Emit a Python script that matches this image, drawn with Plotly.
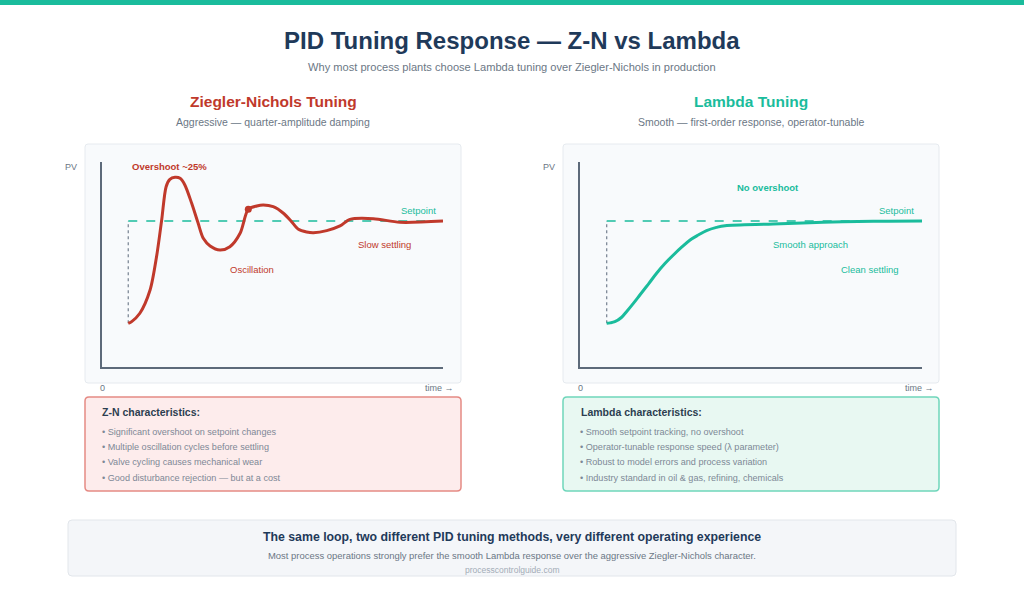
import plotly.graph_objects as go

# ---------------- data ----------------
setpoint = 100
initial_pv = 30
step_time = 7.7

zn_time = [7.7, 8.7, 11.1, 14.1, 16.0, 17.5, 18.8, 19.9, 21.4, 22.9, 24.3, 26.3, 28.2, 29.7,
           31.7, 34.6, 37.5, 40.5, 42.9, 45.4, 47.3, 50.2, 53.2, 55.6, 57.6, 60.0, 62.0,
           65.9, 69.8, 72.7, 79.6, 87.4, 100.0]
zn_pv = [29.9, 31.1, 36.8, 52.7, 75.6, 100.7, 123.5, 128.5, 129.9, 129.2, 124.7, 112.1, 98.4, 88.1,
         82.9, 80.1, 82.4, 91.6, 108.0, 110.3, 111.0, 109.8, 105.3, 99.5, 94.3, 92.5, 92.0,
         93.4, 96.6, 101.1, 101.6, 99.1, 100.0]
zn_marker_time = [42.9]
zn_marker_pv = [108.0]

lam_time = [7.8, 8.8, 10.2, 12.1, 13.6, 15.6, 17.5, 20.0, 22.4, 24.9, 27.3, 29.8, 32.2,
            34.6, 37.0, 39.9, 42.4, 56.5, 71.1, 85.8, 100.0]
lam_pv = [29.9, 30.2, 31.0, 33.9, 37.9, 43.6, 49.3, 56.8, 64.2, 71.0, 76.7, 82.2, 87.0,
          90.4, 93.4, 95.6, 96.8, 97.9, 99.1, 99.8, 100.0]

zn_labels = ["Overshoot ~25%", "Setpoint", "Slow settling", "Oscillation"]
zn_label_t = [19.9, 92.7, 82.7, 44.0]
zn_label_pv = [137.0, 107.5, 84.2, 67.1]

lam_labels = ["No overshoot", "Setpoint", "Smooth approach", "Clean settling"]
lam_label_t = [55.0, 92.4, 67.5, 84.8]
lam_label_pv = [122.6, 107.5, 84.2, 67.1]

zn_bullets = ["Significant overshoot on setpoint changes",
              "Multiple oscillation cycles before settling",
              "Valve cycling causes mechanical wear",
              "Good disturbance rejection — but at a cost"]
lam_bullets = ["Smooth setpoint tracking, no overshoot",
               "Operator-tunable response speed (λ parameter)",
               "Robust to model errors and process variation",
               "Industry standard in oil & gas, refining, chemicals"]

# ---------------- style ----------------
W, H = 1024, 597
FONT = "Liberation Sans, Arial, sans-serif"
RED = "#c0392b"
TEAL = "#1abc9c"
NAVY = "#1f3a5a"
GRAY = "#6b7785"
BGRAY = "#7d8896"
AXIS = "#5d6a7a"


def fx(x):
    return x / W


def fy(y):
    return 1 - y / H


def rrect(x0, y0, x1, y1, r):
    # rounded rectangle path in paper coords from pixel box
    pts = [
        f"M {fx(x0 + r)},{fy(y0)}",
        f"L {fx(x1 - r)},{fy(y0)}",
        f"Q {fx(x1)},{fy(y0)} {fx(x1)},{fy(y0 + r)}",
        f"L {fx(x1)},{fy(y1 - r)}",
        f"Q {fx(x1)},{fy(y1)} {fx(x1 - r)},{fy(y1)}",
        f"L {fx(x0 + r)},{fy(y1)}",
        f"Q {fx(x0)},{fy(y1)} {fx(x0)},{fy(y1 - r)}",
        f"L {fx(x0)},{fy(y0 + r)}",
        f"Q {fx(x0)},{fy(y0)} {fx(x0 + r)},{fy(y0)}",
        "Z",
    ]
    return " ".join(pts)


fig = go.Figure()

shapes = []
# top bar
shapes.append(dict(type="rect", xref="paper", yref="paper", x0=0, x1=1, y0=fy(5), y1=1,
                   fillcolor=TEAL, line=dict(width=0), layer="below"))
# chart panels
for x0, x1 in [(85, 461), (563, 939)]:
    shapes.append(dict(type="path", xref="paper", yref="paper", path=rrect(x0, 144, x1, 383, 3),
                       fillcolor="#f8fafc", line=dict(color="#e6eaef", width=1), layer="below"))
# characteristic boxes
shapes.append(dict(type="path", xref="paper", yref="paper", path=rrect(85, 397, 461, 491, 4),
                   fillcolor="#fdecec", line=dict(color="#e58a84", width=1.5), layer="below"))
shapes.append(dict(type="path", xref="paper", yref="paper", path=rrect(563, 397, 939, 491, 4),
                   fillcolor="#e8f8f2", line=dict(color="#6fd6bb", width=1.5), layer="below"))
# bottom box
shapes.append(dict(type="path", xref="paper", yref="paper", path=rrect(68, 520, 956, 576, 4),
                   fillcolor="#f4f6f9", line=dict(color="#e2e6eb", width=1), layer="below"))

# ---- left chart traces ----
fig.add_trace(go.Scatter(x=[step_time, step_time], y=[initial_pv, setpoint], mode="lines",
                         line=dict(color="#7f8a98", width=1.3, dash="dot"),
                         xaxis="x", yaxis="y", hoverinfo="skip"))
fig.add_trace(go.Scatter(x=[step_time, 100], y=[setpoint, setpoint], mode="lines",
                         line=dict(color=TEAL, width=1.5, dash="dash"),
                         xaxis="x", yaxis="y", hoverinfo="skip"))
fig.add_trace(go.Scatter(x=zn_time, y=zn_pv, mode="lines",
                         line=dict(color=RED, width=3, shape="spline", smoothing=0.8),
                         xaxis="x", yaxis="y"))
fig.add_trace(go.Scatter(x=zn_marker_time, y=zn_marker_pv, mode="markers",
                         marker=dict(color=RED, size=7), xaxis="x", yaxis="y"))

# ---- right chart traces ----
fig.add_trace(go.Scatter(x=[lam_time[0], lam_time[0]], y=[initial_pv, setpoint], mode="lines",
                         line=dict(color="#7f8a98", width=1.3, dash="dot"),
                         xaxis="x2", yaxis="y2", hoverinfo="skip"))
fig.add_trace(go.Scatter(x=[lam_time[0], 100], y=[setpoint, setpoint], mode="lines",
                         line=dict(color=TEAL, width=1.5, dash="dash"),
                         xaxis="x2", yaxis="y2", hoverinfo="skip"))
fig.add_trace(go.Scatter(x=lam_time, y=lam_pv, mode="lines",
                         line=dict(color=TEAL, width=3, shape="spline", smoothing=1),
                         xaxis="x2", yaxis="y2"))

ann = []


def ptext(x, y, text, size, color, bold=False, xanchor="center"):
    t = f"<b>{text}</b>" if bold else text
    ann.append(dict(xref="paper", yref="paper", x=fx(x), y=fy(y), text=t, showarrow=False,
                    xanchor=xanchor, yanchor="middle", font=dict(family=FONT, size=size, color=color)))


# headings
ptext(512, 40, "PID Tuning Response — Z-N vs Lambda", 24, NAVY, bold=True)
ptext(512, 67, "Why most process plants choose Lambda tuning over Ziegler-Nichols in production", 11.1, GRAY)
ptext(273, 101, "Ziegler-Nichols Tuning", 15.5, RED, bold=True)
ptext(273, 122, "Aggressive — quarter-amplitude damping", 10.5, GRAY)
ptext(751, 101, "Lambda Tuning", 15.5, TEAL, bold=True)
ptext(751, 122, "Smooth — first-order response, operator-tunable", 10.5, GRAY)

# axis labels
for pvx, zx, tx in [(70.5, 102, 456), (548.5, 580, 936)]:
    ptext(pvx, 167, "PV", 9, GRAY)
    ptext(zx, 388, "0", 9, GRAY)
    ptext(tx, 388, "time →", 9, GRAY, xanchor="right")

# chart labels (data coords)
for i, (lab, t, v) in enumerate(zip(zn_labels, zn_label_t, zn_label_pv)):
    col = TEAL if lab == "Setpoint" else RED
    txt = f"<b>{lab}</b>" if i == 0 else lab
    ann.append(dict(xref="x", yref="y", x=t, y=v, text=txt, showarrow=False,
                    font=dict(family=FONT, size=9.5, color=col)))
for i, (lab, t, v) in enumerate(zip(lam_labels, lam_label_t, lam_label_pv)):
    txt = f"<b>{lab}</b>" if i == 0 else lab
    ann.append(dict(xref="x2", yref="y2", x=t, y=v, text=txt, showarrow=False,
                    font=dict(family=FONT, size=9.5, color=TEAL)))

# characteristic boxes
ptext(99.5, 412, "Z-N characteristics:", 10.5, "#2c3e50", bold=True, xanchor="left")
ptext(578.5, 412, "Lambda characteristics:", 10.5, "#2c3e50", bold=True, xanchor="left")
for k, (a, b) in enumerate(zip(zn_bullets, lam_bullets)):
    yy = 431.7 + k * 15.3
    ptext(99.5, yy, "• " + a, 9.1, BGRAY, xanchor="left")
    ptext(578, yy, "• " + b, 9.1, BGRAY, xanchor="left")

# bottom box
ptext(512, 537, "The same loop, two different PID tuning methods, very different operating experience", 12.3, NAVY, bold=True)
ptext(512, 555, "Most process operations strongly prefer the smooth Lambda response over the aggressive Ziegler-Nichols character.", 9.45, GRAY)
ptext(512, 570, "processcontrolguide.com", 8.5, "#a3acb7")

ax_common = dict(showgrid=False, zeroline=False, showticklabels=False, ticks="",
                 showline=True, linecolor=AXIS, linewidth=2, fixedrange=True)
ydom = [fy(367), fy(162)]
fig.update_layout(
    width=W, height=H,
    margin=dict(l=0, r=0, t=0, b=0),
    paper_bgcolor="white", plot_bgcolor="rgba(0,0,0,0)",
    showlegend=False,
    xaxis=dict(domain=[fx(102), fx(443)], range=[0, 100], anchor="y", **ax_common),
    yaxis=dict(domain=ydom, range=[0, 140.4], anchor="x", **ax_common),
    xaxis2=dict(domain=[fx(580), fx(922)], range=[0, 100], anchor="y2", **ax_common),
    yaxis2=dict(domain=ydom, range=[0, 140.4], anchor="x2", **ax_common),
    shapes=shapes,
    annotations=ann,
)

fig.write_html("out.html")
